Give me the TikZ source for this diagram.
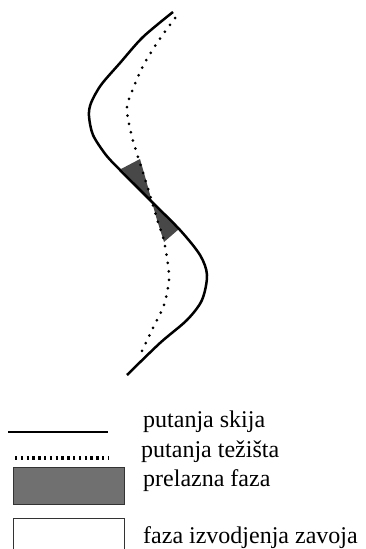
\documentclass[tikz,border=0pt]{standalone}
\usepackage{fontspec}
\setmainfont{Liberation Serif}
\usetikzlibrary{positioning}
\definecolor{phasegray}{RGB}{72,72,72}
\definecolor{boxgray}{RGB}{112,112,112}

\begin{document}
\begin{tikzpicture}[x=1pt,y=-1pt,
  skipath/.style={line width=2.5pt},
  cgpath/.style={line width=3pt,line cap=round,dash pattern=on 0pt off 8.5pt},
  phase/.style={fill=phasegray},
  legbox/.style={draw=black!80,line width=1.2pt,minimum width=111pt,minimum height=37pt,inner sep=0pt,anchor=north west},
  legtext/.style={anchor=base west,inner sep=0pt,font=\fontsize{24}{28}\selectfont}]
\useasboundingbox (0,0) rectangle (365,549);
\clip (0,0) rectangle (365,549);
% transition phases
\fill[phase] (121,169) -- (140,159) -- (146,180) -- (152,202) -- (136,186) -- cycle;
\fill[phase] (152,202) -- (166,216) -- (179,229) -- (164,242) -- (157,220) -- cycle;
% ski path
\draw[skipath] plot[smooth] coordinates {(173,12) (143,37) (120,63) (101,85) (91,103) (89,116) (93,135) (106,155) (121,171) (136,186) (152,202) (180,230) (200,255) (207,275) (202,300) (187,320) (160,343) (127,375)};
% path of the centre of gravity
\draw[cgpath] plot[smooth] coordinates {(175,18) (157,43) (142,68) (129,99) (127,112) (132,137) (139,160) (146,182) (152,202) (158,222) (164,241) (168,265) (169,280) (164,305) (153,328) (141,353)};
% legend
\coordinate (sk1) at (8,432);
\coordinate (sk2) at (108,432);
\coordinate (cg1) at (15,458);
\coordinate (cg2) at (108,458);
\draw[line width=2pt] (sk1) -- (sk2);
\draw[line width=3.2pt,dash pattern=on 2.4pt off 3.4pt] (cg1) -- (cg2);
\node (grbox) [legbox,fill=boxgray] at (13,467) {};
\node (whbox) [legbox,fill=white,minimum height=45pt] at (13,518) {};
\node (sktext) [legtext] at (143,427) {putanja skija};
\node (cgtext) [legtext] at (141,457) {putanja težišta};
\node (grtext) [legtext] at (143,486) {prelazna faza};
\node (whtext) [legtext] at (143,543) {faza izvodjenja zavoja};
\end{tikzpicture}
\end{document}
